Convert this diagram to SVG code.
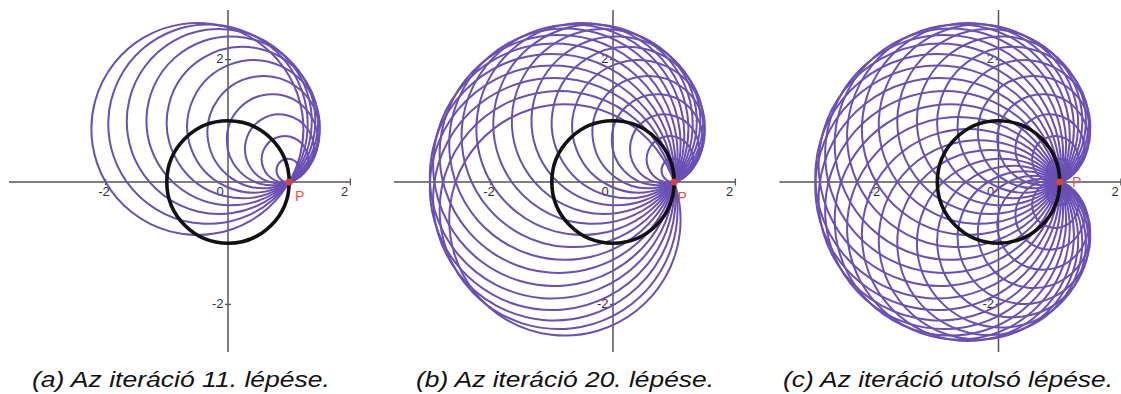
<svg xmlns="http://www.w3.org/2000/svg" xmlns:xlink="http://www.w3.org/1999/xlink" width="1121" height="394" viewBox="0 0 1121 394">
<style>
.ax{stroke:#555;stroke-width:1.5;fill:none}
.tk{stroke:#555;stroke-width:1.3}
.tl{font-family:"Liberation Sans",Arial,sans-serif;font-size:13px;fill:#333}
.cc circle{fill:none;stroke:#6a4fb5;stroke-width:2}
.unit{fill:none;stroke:#111;stroke-width:3.6}
.pt{fill:#d0453f}
.pl{font-family:"Liberation Sans",Arial,sans-serif;font-size:14px;fill:#e0554f}
.cap{font-family:"Liberation Sans",Arial,sans-serif;font-style:italic;font-size:22px;fill:#111}
</style>
<defs>
<g id="setA" class="cc">
<circle cx="61.2" cy="0" r="11.635" transform="rotate(-10.909)"/>
<circle cx="61.2" cy="0" r="23.164" transform="rotate(-21.818)"/>
<circle cx="61.2" cy="0" r="34.484" transform="rotate(-32.727)"/>
<circle cx="61.2" cy="0" r="45.491" transform="rotate(-43.636)"/>
<circle cx="61.2" cy="0" r="56.086" transform="rotate(-54.545)"/>
<circle cx="61.2" cy="0" r="66.174" transform="rotate(-65.455)"/>
<circle cx="61.2" cy="0" r="75.663" transform="rotate(-76.364)"/>
<circle cx="61.2" cy="0" r="84.465" transform="rotate(-87.273)"/>
<circle cx="61.2" cy="0" r="92.504" transform="rotate(-98.182)"/>
<circle cx="61.2" cy="0" r="99.705" transform="rotate(-109.091)"/>
<circle cx="61.2" cy="0" r="106.002" transform="rotate(-120)"/>
</g>
<g id="setB" class="cc">
<circle cx="61.2" cy="0" r="111.339" transform="rotate(-130.909)"/>
<circle cx="61.2" cy="0" r="115.668" transform="rotate(-141.818)"/>
<circle cx="61.2" cy="0" r="118.950" transform="rotate(-152.727)"/>
<circle cx="61.2" cy="0" r="121.154" transform="rotate(-163.636)"/>
<circle cx="61.2" cy="0" r="122.262" transform="rotate(-174.545)"/>
<circle cx="61.2" cy="0" r="122.262" transform="rotate(-185.455)"/>
<circle cx="61.2" cy="0" r="121.154" transform="rotate(-196.364)"/>
<circle cx="61.2" cy="0" r="118.950" transform="rotate(-207.273)"/>
<circle cx="61.2" cy="0" r="115.668" transform="rotate(-218.182)"/>
</g>
<g id="setC" class="cc">
<circle cx="61.2" cy="0" r="111.339" transform="rotate(-229.091)"/>
<circle cx="61.2" cy="0" r="106.002" transform="rotate(-240)"/>
<circle cx="61.2" cy="0" r="99.705" transform="rotate(-250.909)"/>
<circle cx="61.2" cy="0" r="92.504" transform="rotate(-261.818)"/>
<circle cx="61.2" cy="0" r="84.465" transform="rotate(-272.727)"/>
<circle cx="61.2" cy="0" r="75.663" transform="rotate(-283.636)"/>
<circle cx="61.2" cy="0" r="66.174" transform="rotate(-294.545)"/>
<circle cx="61.2" cy="0" r="56.086" transform="rotate(-305.455)"/>
<circle cx="61.2" cy="0" r="45.491" transform="rotate(-316.364)"/>
<circle cx="61.2" cy="0" r="34.484" transform="rotate(-327.273)"/>
<circle cx="61.2" cy="0" r="23.164" transform="rotate(-338.182)"/>
<circle cx="61.2" cy="0" r="11.635" transform="rotate(-349.091)"/>
</g>
<g id="axes">
<line class="ax" x1="-219" y1="0" x2="122.4" y2="0"/>
<line class="ax" x1="0" y1="-172" x2="0" y2="170"/>
<line class="tk" x1="-122.4" y1="-3" x2="-122.4" y2="3"/>
<line class="tk" x1="122.4" y1="-3.5" x2="122.4" y2="3.5"/>
<line class="tk" x1="-3" y1="-122.4" x2="3" y2="-122.4"/>
<line class="tk" x1="-3" y1="122.4" x2="3" y2="122.4"/>
<text class="tl" x="-124" y="14" text-anchor="middle">-2</text>
<text class="tl" x="-8" y="14" text-anchor="middle">0</text>
<text class="tl" x="116.5" y="14" text-anchor="middle">2</text>
<text class="tl" x="-4.5" y="-118.8" text-anchor="end">2</text>
<text class="tl" x="-4.5" y="126.2" text-anchor="end">-2</text>
</g>
</defs>

<g id="panel-a" transform="translate(228,182)">
<use href="#axes" xlink:href="#axes"/>
<use href="#setA" xlink:href="#setA"/>
<circle class="unit" cx="0" cy="0" r="61.2"/>
<circle class="pt" cx="61.2" cy="0" r="3.6"/>
<text class="pl" x="67" y="19">P</text>
</g>

<g id="panel-b" transform="translate(613,182)">
<use href="#axes" xlink:href="#axes"/>
<use href="#setA" xlink:href="#setA"/>
<use href="#setB" xlink:href="#setB"/>
<circle class="unit" cx="0" cy="0" r="61.2"/>
<circle class="pt" cx="61.2" cy="0" r="3.6"/>
<text class="pl" x="64.5" y="20">P</text>
</g>

<g id="panel-c" transform="translate(998.5,182)">
<use href="#axes" xlink:href="#axes"/>
<use href="#setA" xlink:href="#setA"/>
<use href="#setB" xlink:href="#setB"/>
<use href="#setC" xlink:href="#setC"/>
<circle class="unit" cx="0" cy="0" r="61.2"/>
<circle class="pt" cx="61.2" cy="0" r="3.6"/>
<text class="pl" x="73.5" y="5">P</text>
</g>

<g id="captions">
<text class="cap" x="32" y="387" textLength="298" lengthAdjust="spacingAndGlyphs">(a) Az iteráció 11. lépése.</text>
<text class="cap" x="416" y="387" textLength="298" lengthAdjust="spacingAndGlyphs">(b) Az iteráció 20. lépése.</text>
<text class="cap" x="783" y="387" textLength="330" lengthAdjust="spacingAndGlyphs">(c) Az iteráció utolsó lépése.</text>
</g>
</svg>
